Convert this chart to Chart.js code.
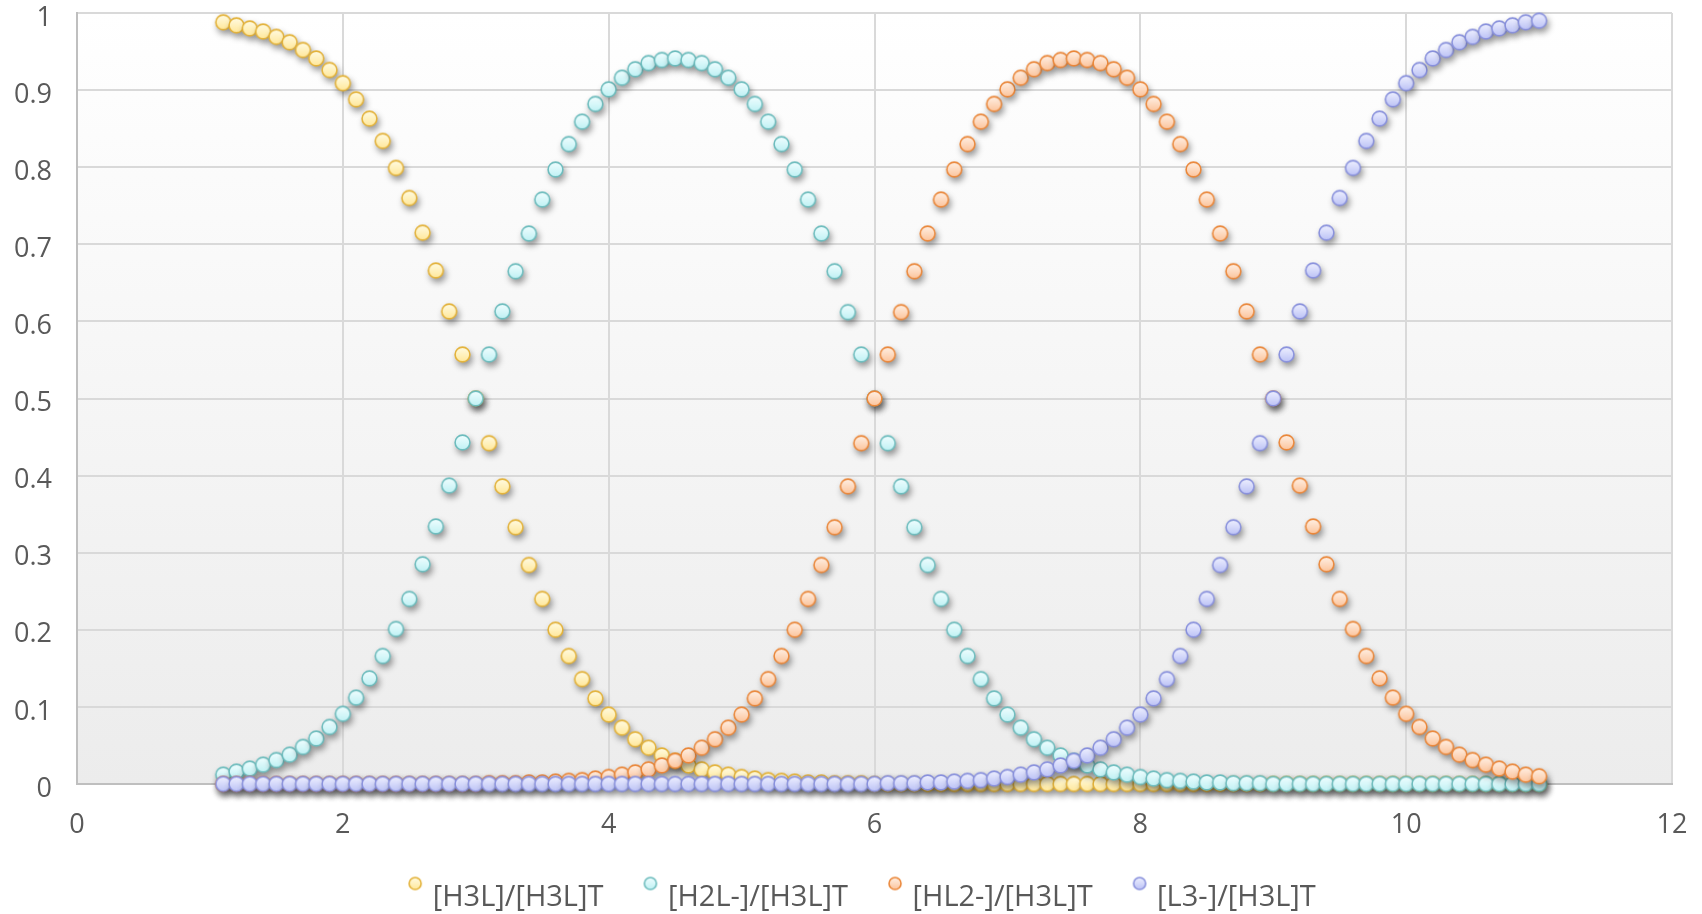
<!DOCTYPE html>
<html lang="en">
<head>
<meta charset="UTF-8">
<title>Species distribution vs pH</title>
<script src="https://cdn.jsdelivr.net/npm/chart.js"></script>
<style>
  html, body { margin: 0; padding: 0; background: #fff; }
  #chart { display: block; }
</style>
</head>
<body>
<canvas id="chart" width="1702" height="914"></canvas>
<script>
// pH values (x)
const pH = [
  1.1, 1.2, 1.3, 1.4, 1.5, 1.6, 1.7, 1.8, 1.9, 2.0,
  2.1, 2.2, 2.3, 2.4, 2.5, 2.6, 2.7, 2.8, 2.9, 3.0,
  3.1, 3.2, 3.3, 3.4, 3.5, 3.6, 3.7, 3.8, 3.9, 4.0,
  4.1, 4.2, 4.3, 4.4, 4.5, 4.6, 4.7, 4.8, 4.9, 5.0,
  5.1, 5.2, 5.3, 5.4, 5.5, 5.6, 5.7, 5.8, 5.9, 6.0,
  6.1, 6.2, 6.3, 6.4, 6.5, 6.6, 6.7, 6.8, 6.9, 7.0,
  7.1, 7.2, 7.3, 7.4, 7.5, 7.6, 7.7, 7.8, 7.9, 8.0,
  8.1, 8.2, 8.3, 8.4, 8.5, 8.6, 8.7, 8.8, 8.9, 9.0,
  9.1, 9.2, 9.3, 9.4, 9.5, 9.6, 9.7, 9.8, 9.9, 10.0,
  10.1, 10.2, 10.3, 10.4, 10.5, 10.6, 10.7, 10.8, 10.9, 11.0
];

const h3l = [
  0.988, 0.984, 0.980, 0.976, 0.969, 0.962, 0.952, 0.941, 0.926, 0.909,
  0.888, 0.863, 0.834, 0.799, 0.760, 0.715, 0.666, 0.613, 0.557, 0.500,
  0.442, 0.386, 0.333, 0.284, 0.240, 0.200, 0.166, 0.136, 0.111, 0.090,
  0.073, 0.058, 0.047, 0.037, 0.030, 0.024, 0.019, 0.015, 0.012, 0.009,
  0.007, 0.005, 0.004, 0.003, 0.002, 0.002, 0.001, 0.001, 0.001, 0,
  0, 0, 0, 0, 0, 0, 0, 0, 0, 0,
  0, 0, 0, 0, 0, 0, 0, 0, 0, 0,
  0, 0, 0, 0, 0, 0, 0, 0, 0, 0,
  0, 0, 0, 0, 0, 0, 0, 0, 0, 0,
  0, 0, 0, 0, 0, 0, 0, 0, 0, 0
];

const h2l = [
  0.012, 0.016, 0.020, 0.025, 0.031, 0.038, 0.048, 0.059, 0.074, 0.091,
  0.112, 0.137, 0.166, 0.201, 0.240, 0.285, 0.334, 0.387, 0.443, 0.500,
  0.557, 0.613, 0.665, 0.714, 0.758, 0.797, 0.830, 0.859, 0.882, 0.901,
  0.916, 0.927, 0.935, 0.939, 0.941, 0.939, 0.935, 0.927, 0.916, 0.901,
  0.882, 0.859, 0.830, 0.797, 0.758, 0.714, 0.665, 0.612, 0.557, 0.500,
  0.442, 0.386, 0.333, 0.284, 0.240, 0.200, 0.166, 0.136, 0.111, 0.090,
  0.073, 0.058, 0.047, 0.037, 0.030, 0.024, 0.019, 0.015, 0.012, 0.009,
  0.007, 0.005, 0.004, 0.003, 0.002, 0.002, 0.001, 0.001, 0.001, 0,
  0, 0, 0, 0, 0, 0, 0, 0, 0, 0,
  0, 0, 0, 0, 0, 0, 0, 0, 0, 0
];

const hl2 = [
  0, 0, 0, 0, 0, 0, 0, 0, 0, 0,
  0, 0, 0, 0, 0, 0, 0, 0, 0, 0,
  0.001, 0.001, 0.001, 0.002, 0.002, 0.003, 0.004, 0.005, 0.007, 0.009,
  0.012, 0.015, 0.019, 0.024, 0.030, 0.037, 0.047, 0.058, 0.073, 0.090,
  0.111, 0.136, 0.166, 0.200, 0.240, 0.284, 0.333, 0.386, 0.442, 0.500,
  0.557, 0.612, 0.665, 0.714, 0.758, 0.797, 0.830, 0.859, 0.882, 0.901,
  0.916, 0.927, 0.935, 0.939, 0.941, 0.939, 0.935, 0.927, 0.916, 0.901,
  0.882, 0.859, 0.830, 0.797, 0.758, 0.714, 0.665, 0.613, 0.557, 0.500,
  0.443, 0.387, 0.334, 0.285, 0.240, 0.201, 0.166, 0.137, 0.112, 0.091,
  0.074, 0.059, 0.048, 0.038, 0.031, 0.025, 0.020, 0.016, 0.012, 0.010
];

const l3 = [
  0, 0, 0, 0, 0, 0, 0, 0, 0, 0,
  0, 0, 0, 0, 0, 0, 0, 0, 0, 0,
  0, 0, 0, 0, 0, 0, 0, 0, 0, 0,
  0, 0, 0, 0, 0, 0, 0, 0, 0, 0,
  0, 0, 0, 0, 0, 0, 0, 0, 0, 0,
  0.001, 0.001, 0.001, 0.002, 0.002, 0.003, 0.004, 0.005, 0.007, 0.009,
  0.012, 0.015, 0.019, 0.024, 0.030, 0.037, 0.047, 0.058, 0.073, 0.090,
  0.111, 0.136, 0.166, 0.200, 0.240, 0.284, 0.333, 0.386, 0.442, 0.500,
  0.557, 0.613, 0.666, 0.715, 0.760, 0.799, 0.834, 0.863, 0.888, 0.909,
  0.926, 0.941, 0.952, 0.962, 0.969, 0.976, 0.980, 0.984, 0.988, 0.990
];

const seriesNames = ['[H3L]/[H3L]T', '[H2L-]/[H3L]T', '[HL2-]/[H3L]T', '[L3-]/[H3L]T'];
const seriesValues = [h3l, h2l, hl2, l3];
const lightColors = ['#fffbe2', '#f0feff', '#fff0e4', '#eef0ff'];
const fillColors = ['#ffe89a', '#bff1f4', '#fcc49c', '#bcc2f6'];
const edgeColors = ['#e3b23a', '#6dbcbd', '#ea873a', '#8890dc'];

const textColor = '#595959';
const fontFamily = "'Open Sans', 'Noto Sans', sans-serif";

// gradient-filled circle marker; lift > 0 raises the circle above the image centre
function makeMarker(light, fill, edge, r, lift) {
  const size = Math.ceil(r * 2 + 4);
  const c = document.createElement('canvas');
  c.width = size;
  c.height = size + lift * 2;
  const g = c.getContext('2d');
  const cx = size / 2;
  const cy = size / 2;
  const grad = g.createLinearGradient(0, cy - r, 0, cy + r);
  grad.addColorStop(0, light);
  grad.addColorStop(1, fill);
  g.beginPath();
  g.arc(cx, cy, r, 0, Math.PI * 2);
  g.fillStyle = grad;
  g.fill();
  g.lineWidth = 1.6;
  g.strokeStyle = edge;
  g.stroke();
  return c;
}

const pointMarkers = seriesNames.map((n, i) => makeMarker(lightColors[i], fillColors[i], edgeColors[i], 7.4, 0));
const legendMarkers = seriesNames.map((n, i) => makeMarker(lightColors[i], fillColors[i], edgeColors[i], 6, 14));

const plotBackground = {
  id: 'plotBackground',
  beforeDraw(chart) {
    const { ctx, chartArea: a } = chart;
    const grad = ctx.createLinearGradient(0, a.top, 0, a.bottom);
    grad.addColorStop(0, '#ffffff');
    grad.addColorStop(1, '#ececec');
    ctx.save();
    ctx.fillStyle = grad;
    ctx.fillRect(a.left, a.top, a.width, a.height);
    ctx.restore();
  }
};

const markerShadow = {
  id: 'markerShadow',
  beforeDatasetsDraw(chart) {
    const ctx = chart.ctx;
    ctx.save();
    ctx.shadowColor = 'rgba(0, 0, 0, 0.4)';
    ctx.shadowBlur = 6;
    ctx.shadowOffsetX = 2;
    ctx.shadowOffsetY = 4;
  },
  afterDatasetsDraw(chart) {
    chart.ctx.restore();
  }
};

// nudge the legend row to the right, as in the original
const legendShift = {
  id: 'legendShift',
  afterLayout(chart) {
    chart.legend.left += 28;
    chart.legend.right += 28;
  }
};

const datasets = seriesNames.map((name, i) => ({
  label: name,
  data: pH.map((x, j) => ({ x: x, y: seriesValues[i][j] })),
  pointStyle: pointMarkers[i],
  pointBackgroundColor: fillColors[i],
  pointBorderColor: edgeColors[i],
  backgroundColor: fillColors[i],
  borderColor: edgeColors[i],
  pointBorderWidth: 1.5,
  pointRadius: 8,
  pointHoverRadius: 8,
  showLine: false,
  order: 3 - i,   // later series drawn on top
  clip: false
}));

new Chart(document.getElementById('chart'), {
  type: 'scatter',
  data: { datasets },
  options: {
    responsive: false,
    animation: false,
    layout: { autoPadding: false, padding: { top: 13, right: 30, left: 0, bottom: -8 } },
    plugins: {
      tooltip: { enabled: false },
      legend: {
        position: 'bottom',
        labels: {
          usePointStyle: true,
          boxWidth: 6,
          boxHeight: 9,
          padding: 44,
          color: textColor,
          font: { family: fontFamily, size: 29 },
          sort: (a, b) => a.datasetIndex - b.datasetIndex,
          generateLabels(chart) {
            const items = Chart.defaults.plugins.legend.labels.generateLabels(chart);
            items.forEach(item => { item.pointStyle = legendMarkers[item.datasetIndex]; });
            return items;
          }
        }
      }
    },
    scales: {
      x: {
        type: 'linear',
        min: 0,
        max: 12,
        ticks: { stepSize: 2, padding: 25, color: textColor, font: { family: fontFamily, size: 27 } },
        grid: { color: '#d9d9d9', lineWidth: 2, drawTicks: false },
        border: { color: '#bfbfbf', width: 2 },
        afterFit(scale) {
          scale.height = 55;
          scale.paddingLeft = 0;
          scale.paddingRight = 0;
        }
      },
      y: {
        min: 0,
        max: 1,
        ticks: {
          stepSize: 0.1,
          padding: 25,
          labelOffset: 5,
          color: textColor,
          font: { family: fontFamily, size: 27 },
          callback: v => String(Number(v.toFixed(1)))
        },
        grid: { color: '#d9d9d9', lineWidth: 2, drawTicks: false },
        border: { color: '#bfbfbf', width: 2 },
        afterFit(scale) {
          scale.width = 77;
          scale.paddingTop = 0;
          scale.paddingBottom = 0;
        }
      }
    }
  },
  plugins: [plotBackground, markerShadow, legendShift]
});
</script>
</body>
</html>
